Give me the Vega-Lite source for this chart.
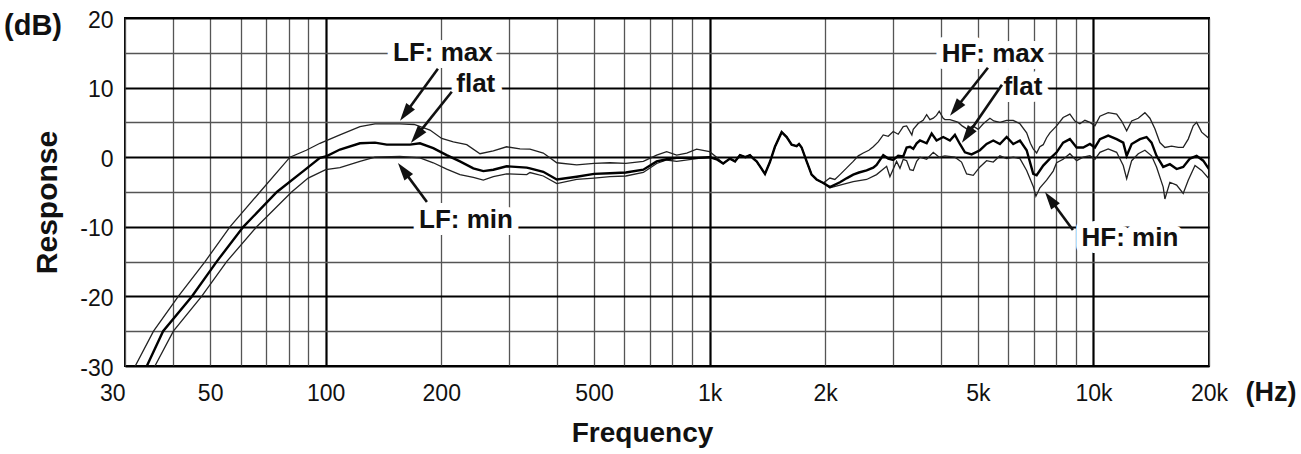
{
  "$schema": "https://vega.github.io/schema/vega-lite/v6.json",
  "width": 1084,
  "height": 348,
  "autosize": {"type": "none"},
  "padding": {"left": 125, "top": 18, "right": 92, "bottom": 88},
  "background": "white",
  "config": {"view": {"stroke": "#000", "strokeWidth": 2}, "font": "Liberation Sans"},
  "datasets": {
    "curves": [
      {"s":"max","f":30,"db":-32.8},{"s":"max","f":31.9,"db":-30},{"s":"max","f":35.6,"db":-25},{"s":"max","f":41.3,"db":-20},{"s":"max","f":48.5,"db":-15},{"s":"max","f":56.3,"db":-10},{"s":"max","f":67.4,"db":-5},{"s":"max","f":80.7,"db":0},{"s":"max","f":89,"db":1.0},{"s":"max","f":96.6,"db":2.0},{"s":"max","f":108.9,"db":3.2},{"s":"max","f":122.8,"db":4.4},{"s":"max","f":134.4,"db":4.8},{"s":"max","f":156,"db":4.8},{"s":"max","f":170,"db":4.7},{"s":"max","f":186.9,"db":3.9},{"s":"max","f":200.5,"db":2.7},{"s":"max","f":215,"db":2.2},{"s":"max","f":233,"db":1.8},{"s":"max","f":252.3,"db":0.5},{"s":"max","f":273.3,"db":0.9},{"s":"max","f":296,"db":1.5},{"s":"max","f":320.7,"db":1.2},{"s":"max","f":340.5,"db":1.15},{"s":"max","f":368.8,"db":0.6},{"s":"max","f":400,"db":-0.8},{"s":"max","f":450.6,"db":-1.1},{"s":"max","f":500,"db":-0.9},{"s":"max","f":550,"db":-0.8},{"s":"max","f":605,"db":-0.9},{"s":"max","f":672,"db":-0.6},{"s":"max","f":728,"db":0.3},{"s":"max","f":773,"db":0.8},{"s":"max","f":821,"db":0.3},{"s":"max","f":872,"db":0.6},{"s":"max","f":925,"db":1.15},{"s":"max","f":1000,"db":0.8},{"s":"max","f":1043,"db":0.0},{"s":"max","f":1085,"db":-0.9},
      {"s":"max","f":1130,"db":-0.2},{"s":"max","f":1165,"db":-0.6},{"s":"max","f":1200,"db":0.3},{"s":"max","f":1240,"db":0.0},{"s":"max","f":1274,"db":0.3},{"s":"max","f":1300,"db":-0.2},{"s":"max","f":1326,"db":-0.6},{"s":"max","f":1360,"db":-1.5},{"s":"max","f":1394,"db":-2.4},{"s":"max","f":1436,"db":-0.7},{"s":"max","f":1480,"db":1.5},{"s":"max","f":1541,"db":3.6},{"s":"max","f":1588,"db":2.9},{"s":"max","f":1636,"db":1.8},{"s":"max","f":1686,"db":1.6},{"s":"max","f":1710,"db":1.9},{"s":"max","f":1737,"db":1.4},{"s":"max","f":1790,"db":-0.6},{"s":"max","f":1844,"db":-2.5},{"s":"max","f":1900,"db":-3.2},{"s":"max","f":1978,"db":-3.7},
      {"s":"max","f":2058,"db":-3.0},{"s":"max","f":2120,"db":-3.2},{"s":"max","f":2186,"db":-2.5},{"s":"max","f":2280,"db":-1.5},{"s":"max","f":2367,"db":-0.6},{"s":"max","f":2440,"db":0.2},{"s":"max","f":2514,"db":0.6},{"s":"max","f":2600,"db":1.0},{"s":"max","f":2669,"db":1.5},{"s":"max","f":2750,"db":2.2},{"s":"max","f":2834,"db":3.2},{"s":"max","f":2920,"db":3.0},{"s":"max","f":3009,"db":3.7},{"s":"max","f":3100,"db":3.3},{"s":"max","f":3195,"db":4.4},{"s":"max","f":3261,"db":4.5},{"s":"max","f":3365,"db":3.2},{"s":"max","f":3393,"db":4.0},{"s":"max","f":3503,"db":4.9},{"s":"max","f":3600,"db":5.3},{"s":"max","f":3677,"db":6.1},{"s":"max","f":3750,"db":5.4},{"s":"max","f":3826,"db":5.6},{"s":"max","f":3900,"db":6.0},{"s":"max","f":3965,"db":6.6},{"s":"max","f":4061,"db":5.6},{"s":"max","f":4103,"db":5.4},{"s":"max","f":4228,"db":5.4},{"s":"max","f":4350,"db":5.2},{"s":"max","f":4445,"db":5.0},{"s":"max","f":4550,"db":4.5},{"s":"max","f":4700,"db":4.0},{"s":"max","f":4850,"db":4.5},{"s":"max","f":5010,"db":4.0},{"s":"max","f":5163,"db":4.8},{"s":"max","f":5374,"db":5.6},{"s":"max","f":5500,"db":5.2},{"s":"max","f":5706,"db":5.0},{"s":"max","f":5942,"db":5.3},{"s":"max","f":6181,"db":5.3},{"s":"max","f":6435,"db":4.8},{"s":"max","f":6699,"db":3.5},{"s":"max","f":6850,"db":2.0},{"s":"max","f":6969,"db":1.2},{"s":"max","f":7112,"db":0.6},{"s":"max","f":7250,"db":1.5},{"s":"max","f":7399,"db":1.8},{"s":"max","f":7551,"db":2.8},{"s":"max","f":7702,"db":3.5},{"s":"max","f":8018,"db":4.5},{"s":"max","f":8337,"db":5.7},{"s":"max","f":8682,"db":6.2},{"s":"max","f":8946,"db":5.2},{"s":"max","f":9218,"db":4.8},{"s":"max","f":9500,"db":5.3},{"s":"max","f":9790,"db":5.0},{"s":"max","f":10089,"db":4.5},{"s":"max","f":10396,"db":5.9},{"s":"max","f":10925,"db":6.4},{"s":"max","f":11492,"db":6.2},{"s":"max","f":11842,"db":5.2},{"s":"max","f":12205,"db":3.8},{"s":"max","f":12576,"db":5.2},{"s":"max","f":13083,"db":5.6},{"s":"max","f":13617,"db":6.4},{"s":"max","f":14031,"db":5.6},{"s":"max","f":14457,"db":4.1},{"s":"max","f":14897,"db":2.1},{"s":"max","f":15350,"db":1.4},{"s":"max","f":15980,"db":1.6},{"s":"max","f":16640,"db":1.4},{"s":"max","f":17132,"db":1.4},{"s":"max","f":17657,"db":2.6},{"s":"max","f":18197,"db":4.5},{"s":"max","f":18570,"db":5.0},{"s":"max","f":19137,"db":3.6},{"s":"max","f":20000,"db":2.7},

      {"s":"flat","f":30,"db":-34.5},{"s":"flat","f":34.2,"db":-30},{"s":"flat","f":37.7,"db":-25},{"s":"flat","f":44.8,"db":-20},{"s":"flat","f":52,"db":-15},{"s":"flat","f":61,"db":-10},{"s":"flat","f":74.6,"db":-5},{"s":"flat","f":87.4,"db":-2},{"s":"flat","f":96.6,"db":-0.1},{"s":"flat","f":100,"db":0.1},{"s":"flat","f":108.9,"db":1.1},{"s":"flat","f":122.8,"db":2.0},{"s":"flat","f":134.4,"db":2.1},{"s":"flat","f":144.2,"db":1.8},{"s":"flat","f":165.8,"db":1.8},{"s":"flat","f":176,"db":2.0},{"s":"flat","f":190.6,"db":1.3},{"s":"flat","f":206.6,"db":0.3},{"s":"flat","f":223.7,"db":-0.6},{"s":"flat","f":242.4,"db":-1.6},{"s":"flat","f":257.4,"db":-2.0},{"s":"flat","f":273.3,"db":-1.8},{"s":"flat","f":296,"db":-1.3},{"s":"flat","f":334,"db":-1.5},{"s":"flat","f":340.5,"db":-1.6},{"s":"flat","f":368.8,"db":-2.1},{"s":"flat","f":400,"db":-3.2},{"s":"flat","f":450.6,"db":-2.8},{"s":"flat","f":500,"db":-2.4},{"s":"flat","f":550,"db":-2.3},{"s":"flat","f":605,"db":-2.2},{"s":"flat","f":672,"db":-1.8},{"s":"flat","f":728,"db":-0.6},{"s":"flat","f":773,"db":-0.3},{"s":"flat","f":821,"db":-0.1},{"s":"flat","f":925,"db":-0.1},{"s":"flat","f":1000,"db":0},{"s":"flat","f":1043,"db":-0.3},{"s":"flat","f":1085,"db":-0.9},
      {"s":"flat","f":1130,"db":-0.2},{"s":"flat","f":1165,"db":-0.6},{"s":"flat","f":1200,"db":0.3},{"s":"flat","f":1240,"db":0.0},{"s":"flat","f":1274,"db":0.3},{"s":"flat","f":1300,"db":-0.2},{"s":"flat","f":1326,"db":-0.6},{"s":"flat","f":1360,"db":-1.5},{"s":"flat","f":1394,"db":-2.4},{"s":"flat","f":1436,"db":-0.7},{"s":"flat","f":1480,"db":1.5},{"s":"flat","f":1541,"db":3.6},{"s":"flat","f":1588,"db":2.9},{"s":"flat","f":1636,"db":1.8},{"s":"flat","f":1686,"db":1.6},{"s":"flat","f":1710,"db":1.9},{"s":"flat","f":1737,"db":1.4},{"s":"flat","f":1790,"db":-0.6},{"s":"flat","f":1844,"db":-2.5},{"s":"flat","f":1900,"db":-3.2},{"s":"flat","f":1978,"db":-3.7},
      {"s":"flat","f":2058,"db":-4.3},{"s":"flat","f":2186,"db":-3.6},{"s":"flat","f":2280,"db":-3.0},{"s":"flat","f":2367,"db":-2.5},{"s":"flat","f":2450,"db":-2.2},{"s":"flat","f":2565,"db":-1.9},{"s":"flat","f":2669,"db":-1.5},{"s":"flat","f":2723,"db":-1.1},{"s":"flat","f":2834,"db":0.3},{"s":"flat","f":2920,"db":-0.2},{"s":"flat","f":3009,"db":-0.4},{"s":"flat","f":3100,"db":0.2},{"s":"flat","f":3195,"db":0.1},{"s":"flat","f":3261,"db":1.4},{"s":"flat","f":3327,"db":1.5},{"s":"flat","f":3393,"db":1.2},{"s":"flat","f":3463,"db":2.0},{"s":"flat","f":3532,"db":2.4},{"s":"flat","f":3677,"db":2.0},{"s":"flat","f":3789,"db":3.4},{"s":"flat","f":3902,"db":2.4},{"s":"flat","f":4061,"db":2.9},{"s":"flat","f":4228,"db":2.4},{"s":"flat","f":4356,"db":3.2},{"s":"flat","f":4488,"db":1.9},{"s":"flat","f":4626,"db":0.7},{"s":"flat","f":4815,"db":0.4},{"s":"flat","f":5061,"db":1.0},{"s":"flat","f":5268,"db":1.9},{"s":"flat","f":5483,"db":2.4},{"s":"flat","f":5706,"db":1.9},{"s":"flat","f":5942,"db":2.9},{"s":"flat","f":6181,"db":1.9},{"s":"flat","f":6435,"db":2.4},{"s":"flat","f":6699,"db":1.0},{"s":"flat","f":6969,"db":-2.4},{"s":"flat","f":7112,"db":-2.6},{"s":"flat","f":7399,"db":-1.2},{"s":"flat","f":7702,"db":-0.2},{"s":"flat","f":8018,"db":0.7},{"s":"flat","f":8337,"db":2.1},{"s":"flat","f":8682,"db":2.6},{"s":"flat","f":9040,"db":1.4},{"s":"flat","f":9403,"db":1.4},{"s":"flat","f":9790,"db":1.9},{"s":"flat","f":10089,"db":1.4},{"s":"flat","f":10396,"db":2.6},{"s":"flat","f":10925,"db":3.1},{"s":"flat","f":11492,"db":2.6},{"s":"flat","f":11957,"db":2.1},{"s":"flat","f":12205,"db":0.2},{"s":"flat","f":12576,"db":1.9},{"s":"flat","f":13216,"db":2.6},{"s":"flat","f":13750,"db":2.9},{"s":"flat","f":14170,"db":2.1},{"s":"flat","f":14600,"db":0.2},{"s":"flat","f":15196,"db":-1.4},{"s":"flat","f":15817,"db":-1.0},{"s":"flat","f":16471,"db":-1.7},{"s":"flat","f":17132,"db":-1.4},{"s":"flat","f":17840,"db":-0.2},{"s":"flat","f":18570,"db":0.2},{"s":"flat","f":19320,"db":-0.5},{"s":"flat","f":20000,"db":-1.7},

      {"s":"min","f":30,"db":-38},{"s":"min","f":35.9,"db":-30},{"s":"min","f":40.1,"db":-25},{"s":"min","f":47.5,"db":-20},{"s":"min","f":55.2,"db":-15},{"s":"min","f":66.1,"db":-10},{"s":"min","f":81.5,"db":-5},{"s":"min","f":90,"db":-3},{"s":"min","f":100,"db":-1.8},{"s":"min","f":108.9,"db":-1.5},{"s":"min","f":122.8,"db":-0.6},{"s":"min","f":134.4,"db":0},{"s":"min","f":156,"db":0.1},{"s":"min","f":176,"db":-0.1},{"s":"min","f":190.6,"db":-0.8},{"s":"min","f":206.6,"db":-1.7},{"s":"min","f":223.7,"db":-2.5},{"s":"min","f":242.4,"db":-2.9},{"s":"min","f":257.4,"db":-3.3},{"s":"min","f":273.3,"db":-2.8},{"s":"min","f":296,"db":-2.4},{"s":"min","f":334,"db":-2.5},{"s":"min","f":340.5,"db":-2.2},{"s":"min","f":368.8,"db":-2.7},{"s":"min","f":400,"db":-3.8},{"s":"min","f":450.6,"db":-3.2},{"s":"min","f":500,"db":-3.0},{"s":"min","f":550,"db":-2.8},{"s":"min","f":605,"db":-2.7},{"s":"min","f":672,"db":-2.2},{"s":"min","f":728,"db":-0.9},{"s":"min","f":773,"db":-0.4},{"s":"min","f":821,"db":-0.6},{"s":"min","f":925,"db":-0.2},{"s":"min","f":1000,"db":0},{"s":"min","f":1043,"db":-0.3},{"s":"min","f":1085,"db":-0.9},
      {"s":"min","f":1130,"db":-0.2},{"s":"min","f":1165,"db":-0.6},{"s":"min","f":1200,"db":0.3},{"s":"min","f":1240,"db":0.0},{"s":"min","f":1274,"db":0.3},{"s":"min","f":1300,"db":-0.2},{"s":"min","f":1326,"db":-0.6},{"s":"min","f":1360,"db":-1.5},{"s":"min","f":1394,"db":-2.4},{"s":"min","f":1436,"db":-0.7},{"s":"min","f":1480,"db":1.5},{"s":"min","f":1541,"db":3.6},{"s":"min","f":1588,"db":2.9},{"s":"min","f":1636,"db":1.8},{"s":"min","f":1686,"db":1.6},{"s":"min","f":1710,"db":1.9},{"s":"min","f":1737,"db":1.4},{"s":"min","f":1790,"db":-0.6},{"s":"min","f":1844,"db":-2.5},{"s":"min","f":1900,"db":-3.2},{"s":"min","f":1978,"db":-3.7},
      {"s":"min","f":2058,"db":-4.4},{"s":"min","f":2186,"db":-4.0},{"s":"min","f":2367,"db":-3.5},{"s":"min","f":2565,"db":-3.2},{"s":"min","f":2723,"db":-2.5},{"s":"min","f":2892,"db":-1.3},{"s":"min","f":2950,"db":-2.8},{"s":"min","f":3070,"db":-0.6},{"s":"min","f":3133,"db":-1.6},{"s":"min","f":3195,"db":-0.3},{"s":"min","f":3261,"db":-0.5},{"s":"min","f":3327,"db":-1.8},{"s":"min","f":3393,"db":-1.9},{"s":"min","f":3463,"db":-0.6},{"s":"min","f":3532,"db":0.0},{"s":"min","f":3677,"db":-0.3},{"s":"min","f":3826,"db":0.7},{"s":"min","f":3965,"db":0.0},{"s":"min","f":4103,"db":0.2},{"s":"min","f":4356,"db":0.0},{"s":"min","f":4533,"db":-0.7},{"s":"min","f":4673,"db":-2.4},{"s":"min","f":4863,"db":-2.6},{"s":"min","f":5061,"db":-1.4},{"s":"min","f":5268,"db":-0.5},{"s":"min","f":5483,"db":-0.7},{"s":"min","f":5706,"db":0.2},{"s":"min","f":5942,"db":-0.2},{"s":"min","f":6181,"db":0.0},{"s":"min","f":6435,"db":-0.2},{"s":"min","f":6699,"db":-1.9},{"s":"min","f":6969,"db":-4.2},{"s":"min","f":7081,"db":-5.6},{"s":"min","f":7254,"db":-4.4},{"s":"min","f":7551,"db":-3.3},{"s":"min","f":7855,"db":-2.0},{"s":"min","f":8018,"db":-0.8},{"s":"min","f":8337,"db":-0.3},{"s":"min","f":8682,"db":0.5},{"s":"min","f":9040,"db":-0.5},{"s":"min","f":9403,"db":0.0},{"s":"min","f":9790,"db":0.2},{"s":"min","f":10089,"db":-0.3},{"s":"min","f":10396,"db":0.7},{"s":"min","f":10925,"db":1.2},{"s":"min","f":11492,"db":0.7},{"s":"min","f":11957,"db":-1.2},{"s":"min","f":12205,"db":-3.1},{"s":"min","f":12576,"db":-0.5},{"s":"min","f":13083,"db":0.5},{"s":"min","f":13617,"db":1.0},{"s":"min","f":14170,"db":0.2},{"s":"min","f":14600,"db":-1.4},{"s":"min","f":15196,"db":-4.3},{"s":"min","f":15350,"db":-6.0},{"s":"min","f":15817,"db":-3.6},{"s":"min","f":16471,"db":-4.0},{"s":"min","f":17132,"db":-5.2},{"s":"min","f":17657,"db":-3.3},{"s":"min","f":18390,"db":-1.2},{"s":"min","f":19137,"db":-1.9},{"s":"min","f":20000,"db":-3.1}
    ],
    "labels": [
      {"label":"LF: max","f":202,"db":15.0},
      {"label":"flat","f":246,"db":10.55},
      {"label":"LF: min","f":232,"db":-9.0},
      {"label":"HF: max","f":5472,"db":14.86},
      {"label":"flat","f":6549,"db":10.1},
      {"label":"HF: min","f":12447,"db":-11.6}
    ],
    "shafts": [
      {"id":"a1","f":196,"db":12.7},{"id":"a1","f":161.2,"db":6.27},
      {"id":"a2","f":213,"db":9.4},{"id":"a2","f":172.4,"db":3.06},
      {"id":"a3","f":183.5,"db":-6.43},{"id":"a3","f":159.3,"db":-1.86},
      {"id":"a4","f":5310,"db":12.85},{"id":"a4","f":4373,"db":6.96},
      {"id":"a5","f":5776,"db":10.4},{"id":"a5","f":4686,"db":3.12},
      {"id":"a6","f":8842,"db":-10.46},{"id":"a6","f":7717,"db":-6.03}
    ],
    "heads": [
      {"id":"a1","f":161.2,"db":6.27},
      {"id":"a2","f":172.4,"db":3.06},
      {"id":"a3","f":159.3,"db":-1.86},
      {"id":"a4","f":4373,"db":6.96},
      {"id":"a5","f":4686,"db":3.12},
      {"id":"a6","f":7717,"db":-6.03}
    ]
  },
  "encoding": {
    "x": {
      "field": "f", "type": "quantitative",
      "scale": {"type": "log", "domain": [30, 20000], "nice": false},
      "axis": {
        "title": "Frequency",
        "values": [30,40,50,60,70,80,90,100,200,300,400,500,600,700,800,900,1000,2000,3000,4000,5000,6000,7000,8000,9000,10000,20000],
        "labelExpr": "indexof([30,50,100,200,500,1000,2000,5000,10000,20000], datum.value) >= 0 ? (datum.value >= 1000 ? (datum.value/1000) + 'k' : '' + datum.value) : ''",
        "labelOverlap": false, "labelFlush": false, "labelBound": false,
        "labelAlign": {"condition": {"test": "datum.value === 30", "value": "right"}, "value": "center"},
        "labelFontSize": 23, "labelColor": "#111", "labelPadding": 27, "labelBaseline": "middle",
        "ticks": false, "tickSize": 0, "domain": false,
        "grid": true,
        "gridColor": {"condition": {"test": "indexof([100,1000,10000], datum.value) >= 0", "value": "#000"}, "value": "#555"},
        "gridWidth": {"condition": {"test": "indexof([100,1000,10000], datum.value) >= 0", "value": 2.2}, "value": 1.3},
        "titleFontSize": 28, "titleFontWeight": "bold", "titleColor": "#111",
        "titleX": 517, "titleY": 67, "titleBaseline": "middle", "titleAlign": "center"
      }
    },
    "y": {
      "field": "db", "type": "quantitative",
      "scale": {"domain": [-30, 20], "nice": false},
      "axis": {
        "title": "Response",
        "values": [-30,-25,-20,-15,-10,-5,0,5,10,15,20],
        "labelExpr": "datum.value % 10 === 0 ? '' + datum.value : ''",
        "labelOverlap": false, "labelFlush": false, "labelBound": false,
        "labelFontSize": 23, "labelColor": "#111", "labelPadding": 12, "labelOffset": 2, "labelBaseline": "middle",
        "ticks": false, "tickSize": 0, "domain": false,
        "grid": true,
        "gridColor": {"condition": {"test": "datum.value % 10 === 0", "value": "#000"}, "value": "#555"},
        "gridWidth": {"condition": {"test": "datum.value % 10 === 0", "value": 2}, "value": 1.4},
        "titleFontSize": 30, "titleFontWeight": "bold", "titleColor": "#111",
        "titleX": -78, "titleY": 184, "titleBaseline": "middle", "titleAlign": "center", "titleAngle": -90
      }
    }
  },
  "layer": [
    {
      "data": {"name": "curves"},
      "transform": [{"filter": "datum.s !== 'flat'"}],
      "mark": {"type": "line", "clip": true, "color": "#222", "strokeWidth": 1.3},
      "encoding": {"detail": {"field": "s", "type": "nominal"}}
    },
    {
      "data": {"name": "curves"},
      "transform": [{"filter": "datum.s === 'flat'"}],
      "mark": {"type": "line", "clip": true, "color": "#000", "strokeWidth": 2.4},
      "encoding": {"detail": {"field": "s", "type": "nominal"}}
    },
    {
      "data": {"name": "labels"},
      "mark": {"type": "text", "font": "Liberation Sans", "fontSize": 26, "fontWeight": "bold", "fill": "white", "stroke": "white", "strokeWidth": 14, "strokeJoin": "round", "align": "center", "baseline": "middle"},
      "encoding": {"text": {"field": "label"}}
    },
    {
      "data": {"name": "labels"},
      "mark": {"type": "text", "font": "Liberation Sans", "fontSize": 26, "fontWeight": "bold", "fill": "#111", "align": "center", "baseline": "middle"},
      "encoding": {"text": {"field": "label"}}
    },
    {
      "data": {"name": "shafts"},
      "mark": {"type": "line", "color": "#111", "strokeWidth": 2.6},
      "encoding": {"detail": {"field": "id", "type": "nominal"}}
    },
    {
      "data": {"name": "heads"},
      "mark": {"type": "point", "shape": "M0,-1L0.6,1L-0.6,1Z", "filled": true, "size": 324, "color": "#111", "opacity": 1},
      "encoding": {
        "angle": {
          "condition": [
            {"test": "datum.id === 'a1'", "value": 216},
            {"test": "datum.id === 'a2'", "value": 219},
            {"test": "datum.id === 'a3'", "value": 323},
            {"test": "datum.id === 'a4'", "value": 218},
            {"test": "datum.id === 'a5'", "value": 215}
          ],
          "value": 324
        }
      }
    },
    {
      "data": {"values": [{"label": "(dB)", "f": 30, "db": 20}]},
      "mark": {"type": "text", "font": "Liberation Sans", "fontSize": 29, "fontWeight": "bold", "fill": "#111", "align": "center", "baseline": "middle", "dx": -92, "dy": 8},
      "encoding": {"text": {"field": "label"}}
    },
    {
      "data": {"values": [{"label": "(Hz)", "f": 20000, "db": -30}]},
      "mark": {"type": "text", "font": "Liberation Sans", "fontSize": 27, "fontWeight": "bold", "fill": "#111", "align": "center", "baseline": "middle", "dx": 62, "dy": 27},
      "encoding": {"text": {"field": "label"}}
    }
  ]
}
